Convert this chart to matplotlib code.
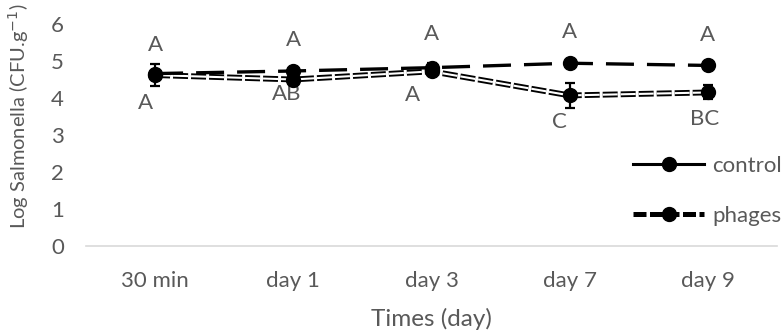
import matplotlib
matplotlib.use("Agg")
import matplotlib.pyplot as plt
from matplotlib.lines import Line2D
import numpy as np

categories = ["30 min", "day 1", "day 3", "day 7", "day 9"]
control = [4.66, 4.73, 4.82, 4.94, 4.88]
control_err = [0.08, 0.05, 0.12, 0.04, 0.05]
phages = [4.62, 4.50, 4.72, 4.07, 4.15]
phages_err = [0.30, 0.10, 0.08, 0.34, 0.19]
control_letters = ["A", "A", "A", "A", "A"]
phages_letters = ["A", "AB", "A", "C", "BC"]

# label placement offsets (pixels) relative to the points
control_lbl_off = [(0, 29), (0, 31), (0, 34), (0, 31), (0, 30)]
phages_lbl_off = [(-10, -28), (-7, -14), (-19, -24), (-10, -27), (-3, -27)]

plt.rcParams['font.family'] = ['Lato', 'DejaVu Sans']
gray = "#595959"
FS = 16

fig = plt.figure(figsize=(7.82, 3.32), dpi=100)
ax = fig.add_axes([86 / 782, 1 - 246 / 332, 691 / 782, 222 / 332])
x = np.arange(len(categories))
px = 72 / 100  # points per pixel

# phages (lower) double-line dashed
ax.errorbar(x, phages, yerr=phages_err, fmt='none', ecolor='black', elinewidth=1.6,
            capsize=3.6, capthick=1.6, zorder=2)
blw, wlw = 4.2, 1.5
dash_on, dash_off = 15 * px, 3 * px
ax.plot(x, phages, color='black', lw=blw, dashes=(dash_on / blw, dash_off / blw),
        solid_capstyle='butt', dash_capstyle='butt', zorder=3)
ax.plot(x, phages, color='white', lw=wlw, dashes=(dash_on / wlw, dash_off / wlw),
        dash_capstyle='butt', zorder=4)
ax.plot(x, phages, 'o', color='black', ms=10, zorder=5)

# control (upper) long dashed
ax.errorbar(x, control, yerr=control_err, fmt='none', ecolor='black', elinewidth=1.6,
            capsize=3.6, capthick=1.6, zorder=2)
clw = 2.4
ax.plot(x, control, color='black', lw=clw, dashes=(28 * px / clw, 13 * px / clw),
        dash_capstyle='butt', marker='o', ms=10, zorder=6)

for xi, v, t, off in zip(x, control, control_letters, control_lbl_off):
    ax.annotate(t, (xi, v), xytext=(off[0] * px, off[1] * px), textcoords='offset points',
                ha='center', va='center', fontsize=FS, color=gray)
for xi, v, t, off in zip(x, phages, phages_letters, phages_lbl_off):
    ax.annotate(t, (xi, v), xytext=(off[0] * px, off[1] * px), textcoords='offset points',
                ha='center', va='center', fontsize=FS, color=gray)

ax.set_xlim(-0.5, len(categories) - 0.5)
ax.set_ylim(0, 6)
ax.set_xticks(x)
ax.set_xticklabels(categories)
ax.set_yticks(range(0, 7))
ax.tick_params(length=0, labelsize=FS, labelcolor=gray)
ax.tick_params(axis='x', pad=18)
ax.tick_params(axis='y', pad=16)
for s in ['top', 'right', 'left']:
    ax.spines[s].set_visible(False)
ax.spines['bottom'].set_color('#d9d9d9')
ax.spines['bottom'].set_linewidth(1.2)
ax.set_xlabel("Times (day)", fontsize=17.5, color=gray, labelpad=12)
ax.set_ylabel("Log Salmonella (CFU.g$^{-1}$)", fontsize=14.5, color=gray)
ax.yaxis.set_label_coords((31 - 86) / 691, (246 - 116) / 222)

handles = [Line2D([], [], color='black', lw=2.2, marker='o', ms=10),
           Line2D([], [], color='black', lw=3.6, dashes=(2.6, 0.7), dash_capstyle='butt',
                  marker='o', ms=10)]
fig.legend(handles, ["control", "phages"], loc='upper left',
           bbox_to_anchor=(633 / 782, 1 - 156 / 332), borderaxespad=0, borderpad=0,
           frameon=False, fontsize=FS, labelcolor=gray, handlelength=3.2,
           handletextpad=0.35, labelspacing=1.35)

fig.savefig("out.png", dpi=100)
